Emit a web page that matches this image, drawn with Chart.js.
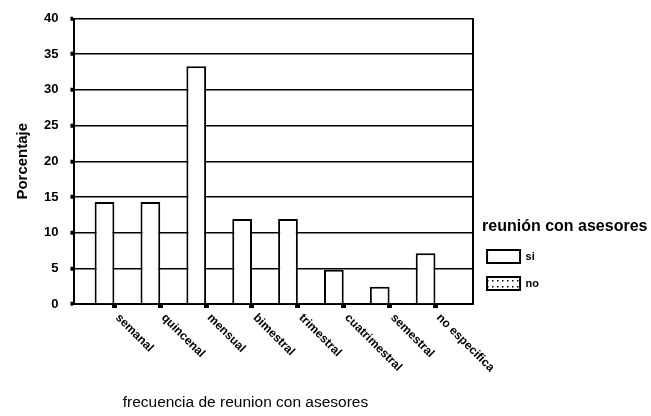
<!DOCTYPE html>
<html>
<head>
<meta charset="utf-8">
<script src="https://cdn.jsdelivr.net/npm/chart.js@4.4.1/dist/chart.umd.min.js"></script>
<style>
  html, body { margin: 0; padding: 0; background: #fff; }
</style>
</head>
<body>
<canvas id="reunionChart" width="651" height="416"></canvas>
<script>
const categories = ["semanal", "quincenal", "mensual", "bimestral", "trimestral", "cuatrimestral", "semestral", "no especifica"];
const siValues = [14.3, 14.3, 33.3, 11.9, 11.9, 4.8, 2.4, 7.1];
const noValues = [0, 0, 0, 0, 0, 0, 0, 0];
const seriesNames = ["si", "no"];
const yTitle = "Porcentaje";
const xTitle = "frecuencia de reunion con asesores";
const legendTitle = "reunión con asesores";

const FONT = "'Liberation Sans', Arial, sans-serif";

// dotted fill for the "no" swatch
const makeDots = () => {
    const c = document.createElement("canvas");
    c.width = 5;
    c.height = 6;
    const g = c.getContext("2d");
    g.fillStyle = "#fff";
    g.fillRect(0, 0, 5, 6);
    g.fillStyle = "#000";
    g.fillRect(2, 4, 1.5, 1.5);
    return g.createPattern(c, "repeat");
};

// slanted category names, x title and legend title (legend box is too narrow for it)
const extraText = {
    id: "extraText",
    afterDraw(chart) {
        const ctx = chart.ctx;
        const xScale = chart.scales.x;
        const area = chart.chartArea;
        ctx.save();
        ctx.fillStyle = "#000";
        ctx.font = "bold 12px " + FONT;
        ctx.textAlign = "left";
        ctx.textBaseline = "middle";
        categories.forEach((name, i) => {
            const x = xScale.getPixelForValue(i + 1);
            ctx.save();
            ctx.translate(x + 3, area.bottom + 12);
            ctx.rotate(Math.PI / 4);
            ctx.fillText(name, 0, 0);
            ctx.restore();
        });
        ctx.font = "15.5px " + FONT;
        ctx.textAlign = "center";
        ctx.textBaseline = "alphabetic";
        ctx.fillText(xTitle, area.left + 171, chart.height - 9);

        const lg = chart.legend;
        const firstBox = lg.legendHitBoxes[0];
        ctx.font = "bold 16px " + FONT;
        ctx.textAlign = "left";
        ctx.textBaseline = "middle";
        ctx.fillText(legendTitle, area.right + 9, firstBox.top - 23);
        ctx.restore();
    }
};

const ctx = document.getElementById("reunionChart");

new Chart(ctx, {
    type: "bar",
    data: {
        datasets: [
            {
                label: seriesNames[0],
                data: siValues.map((v, i) => ({ x: i + 1, y: v })),
                backgroundColor: "#fff",
                borderColor: "#000",
                borderWidth: 2,
            },
            {
                label: seriesNames[1],
                data: noValues.map((v, i) => ({ x: i + 1, y: v })),
                backgroundColor: makeDots(),
                borderColor: "#000",
                borderWidth: 2,
            },
        ],
    },
    options: {
        responsive: false,
        animation: false,
        categoryPercentage: 0.86,
        barPercentage: 1,
        layout: {
            padding: { left: 10, top: 8, right: 102, bottom: 0 }
        },
        plugins: {
            tooltip: { enabled: false },
            legend: {
                position: "right",
                align: "end",
                fullSize: false,
                labels: {
                    color: "#000",
                    boxWidth: 33,
                    boxHeight: 13,
                    padding: 14,
                    font: { family: FONT, size: 11, weight: "bold" }
                }
            }
        },
        scales: {
            x: {
                type: "linear",
                min: 0.13,
                max: 8.82,
                offset: false,
                afterBuildTicks: (s) => {
                    s.ticks = categories.map((c, i) => ({ value: i + 1 }));
                },
                afterFit: (s) => {
                    s.height = 112;
                },
                ticks: { display: false },
                grid: {
                    offset: false,
                    drawOnChartArea: false,
                    color: "#000",
                    tickLength: 4,
                    tickWidth: 5,
                },
                border: { color: "#000", width: 2 }
            },
            y: {
                min: 0,
                max: 40,
                ticks: {
                    stepSize: 5,
                    color: "#000",
                    padding: 12,
                    font: { family: FONT, size: 13, weight: "bold", lineHeight: 1 }
                },
                grid: {
                    color: "#000",
                    lineWidth: 1.5,
                    tickLength: 4,
                    tickWidth: 4,
                },
                border: { color: "#000", width: 2 },
                title: {
                    display: true,
                    text: yTitle,
                    color: "#000",
                    font: { family: FONT, size: 15, weight: "bold" },
                    padding: { top: 4, bottom: 0 }
                }
            },
            y2: {
                position: "right",
                min: 0,
                max: 40,
                ticks: { display: false },
                grid: { drawOnChartArea: false, drawTicks: false },
                border: { color: "#000", width: 2 },
                afterFit: (s) => {
                    s.width = 0;
                }
            }
        }
    },
    plugins: [extraText]
});
</script>
</body>
</html>
